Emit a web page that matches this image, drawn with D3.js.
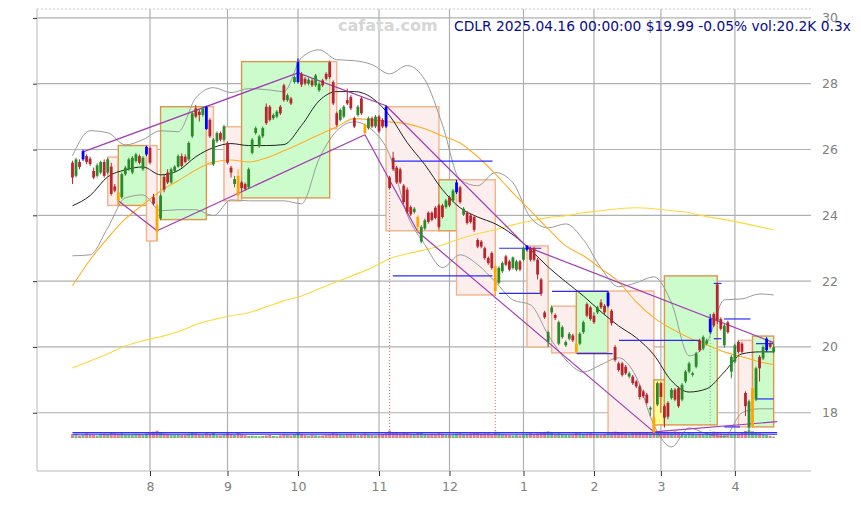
<!DOCTYPE html>
<html>
<head>
<meta charset="utf-8">
<script src="https://cdn.jsdelivr.net/npm/d3@7"></script>
<style>
  body { margin: 0; background: #fff; }
  text { font-family: "DejaVu Sans", sans-serif; }
</style>
</head>
<body>
<div id="chart"></div>
<script>
const width = 861, height = 505;
const plot = { left: 37, right: 811, top: 9, bottom: 471 };

// daily candles, one per trading day (Jul 2024 .. Apr 16 2025)
const open = [25.60,25.20,25.62,25.70,25.80,25.72,25.35,25.20,25.30,25.62,25.30,25.48,24.88,24.70,24.55,25.25,25.40,25.30,25.65,25.80,25.40,25.85,
  26.05,24.55,24.30,23.90,25.17,25.30,25.00,25.35,25.48,25.80,25.78,25.70,26.40,27.25,27.15,27.05,27.30,26.90,25.55,26.25,26.50,26.30,
  26.20,25.45,24.95,25.20,25.00,24.95,24.85,25.90,26.50,26.10,26.40,27.30,27.30,26.95,27.00,27.30,27.95,27.50,27.55,28.05,
  28.05,28.30,28.15,28.00,28.10,27.95,27.80,28.10,28.30,28.65,28.05,27.10,26.90,27.00,27.50,27.60,26.95,27.05,27.55,26.75,26.65,26.95,26.70,
  27.00,26.90,27.30,25.15,25.75,25.45,25.40,24.90,24.78,24.25,24.10,23.95,23.20,23.60,24.08,24.08,24.23,24.30,24.30,24.25,
  24.55,24.45,24.70,24.85,24.02,24.08,24.00,23.95,23.25,23.20,23.00,22.70,22.85,22.45,21.95,22.30,22.75,22.60,22.40,22.35,22.60,
  22.65,22.95,23.00,23.00,22.65,22.05,21.05,20.15,21.05,20.97,20.10,20.30,20.05,20.25,20.35,20.10,20.10,20.45,21.30,21.20,
  20.95,21.05,21.35,21.25,21.25,21.10,20.00,19.50,19.50,19.40,19.10,19.10,18.95,18.80,18.65,18.55,18.10,17.85,18.25,
  18.90,18.20,18.30,18.45,18.70,18.75,18.40,18.95,19.25,19.15,19.40,20.20,19.95,20.10,20.45,21.00,21.90,20.85,20.05,20.75,19.25,
  19.55,20.15,20.10,18.60,17.55,17.60,18.40,19.70,19.65,19.90,20.10,19.85];
const high = [25.66,25.75,25.70,26.00,25.85,25.78,25.45,25.58,25.66,25.70,25.75,25.60,24.95,24.75,25.30,25.50,25.75,25.80,25.90,25.85,25.80,26.12,
  26.10,24.65,24.35,24.65,25.25,25.40,25.45,25.52,25.85,25.88,25.85,26.25,27.15,27.35,27.22,27.30,27.33,26.95,26.35,26.55,26.55,26.75,
  26.25,25.50,25.20,25.40,25.05,25.00,25.45,26.35,26.70,26.45,26.70,27.40,27.35,27.10,27.20,27.35,28.00,27.70,27.60,28.25,
  28.77,28.35,28.20,28.18,28.15,28.30,28.05,28.15,28.35,28.70,28.10,27.15,27.25,27.35,27.85,27.65,27.00,27.35,27.60,26.80,27.00,27.00,27.05,
  27.05,26.95,27.35,25.20,25.93,25.50,25.45,24.95,24.85,24.30,24.25,24.00,23.70,23.90,24.12,24.12,24.28,24.35,24.35,24.50,
  24.60,24.80,25.08,24.90,24.25,24.12,24.05,24.00,23.30,23.25,23.05,22.75,22.90,22.50,22.45,22.60,22.80,22.65,22.75,22.65,22.65,
  23.05,23.10,23.05,23.05,22.70,22.10,21.10,20.50,21.25,21.02,20.80,20.65,20.20,20.45,20.40,20.15,20.45,20.80,21.35,21.25,
  21.05,21.25,21.45,21.30,21.70,21.15,20.05,19.55,19.55,19.45,19.25,19.15,19.00,18.85,18.70,18.60,18.20,17.90,18.95,
  18.95,18.25,18.35,18.75,18.75,18.80,18.90,19.30,19.55,19.25,19.85,20.25,20.35,20.25,21.00,21.05,21.95,20.90,20.70,20.80,19.75,
  20.10,20.20,20.15,18.65,18.40,18.80,19.40,19.75,20.05,20.30,20.15,20.10];
const low = [24.95,25.15,25.40,25.65,25.55,25.50,25.10,25.15,25.25,25.15,25.25,24.60,24.70,24.30,24.50,25.20,25.35,25.25,25.60,25.55,25.35,25.80,
  25.55,24.30,23.22,23.85,24.70,24.95,24.95,25.30,25.45,25.45,25.58,25.65,26.35,26.95,26.85,27.00,26.60,26.35,25.50,26.20,26.25,26.25,
  25.55,25.15,24.85,24.44,24.75,24.75,24.80,25.85,26.45,26.05,26.35,26.75,26.85,26.90,26.95,27.05,27.45,27.45,27.35,28.00,
  28.00,27.90,27.95,27.95,27.90,27.90,27.75,27.90,28.10,28.15,27.35,26.70,26.85,26.95,27.35,27.20,26.65,27.00,27.05,26.45,26.60,26.65,26.65,
  26.50,26.65,26.65,24.80,25.35,24.95,24.95,24.35,24.05,23.98,24.05,23.47,23.15,23.55,23.75,23.82,23.88,23.60,23.90,24.20,
  24.25,24.40,24.65,24.35,23.98,23.72,23.75,23.50,23.00,23.00,22.65,22.50,22.35,21.58,21.90,22.25,22.45,22.30,22.35,22.30,22.30,
  22.60,22.90,22.60,22.60,22.05,21.55,20.85,20.00,21.00,20.82,20.05,20.25,20.00,20.20,20.15,19.82,20.05,20.40,20.90,20.80,
  20.70,21.00,21.15,21.00,21.20,20.65,19.55,19.25,19.10,19.15,19.05,18.85,18.75,18.40,18.45,18.25,17.90,17.38,18.20,
  18.00,17.55,17.80,18.40,18.35,18.15,18.35,18.90,19.20,19.10,19.35,19.85,19.90,20.05,20.40,20.60,20.70,20.50,19.98,20.40,19.05,
  19.50,19.80,19.80,17.90,17.38,17.55,18.35,18.95,19.60,19.85,19.95,19.80];
const close = [25.15,25.70,25.47,25.95,25.62,25.56,25.15,25.52,25.62,25.20,25.70,24.65,24.75,24.45,25.25,25.45,25.70,25.75,25.85,25.60,25.75,26.08,
  25.60,24.35,23.50,24.60,24.78,25.00,25.40,25.48,25.80,25.50,25.62,26.20,27.10,27.00,27.05,27.25,26.62,26.40,26.30,26.50,26.30,26.70,
  25.60,25.30,25.10,24.60,24.83,24.80,25.40,26.30,26.65,26.40,26.65,26.80,26.90,27.05,27.15,27.10,27.50,27.65,27.40,28.20,
  28.65,27.97,28.00,28.12,27.95,28.25,28.00,27.95,28.15,28.20,27.40,26.75,27.20,27.30,27.40,27.25,26.70,27.30,27.10,26.50,26.95,26.70,27.00,
  26.55,26.70,26.70,24.83,25.40,25.00,25.00,24.40,24.10,24.03,24.20,23.65,23.65,23.85,23.80,23.86,23.92,23.65,23.95,24.45,
  24.30,24.75,25.00,24.40,24.20,23.77,23.80,23.56,23.05,23.05,22.70,22.55,22.40,21.70,22.40,22.55,22.50,22.35,22.72,22.60,22.35,
  23.00,23.07,22.65,22.65,22.20,21.62,20.90,20.45,21.20,20.88,20.75,20.60,20.15,20.40,20.20,19.85,20.40,20.75,20.95,20.85,
  20.75,21.20,21.20,21.05,21.65,20.72,19.60,19.30,19.15,19.20,19.20,18.90,18.80,18.48,18.50,18.30,18.15,17.40,18.90,
  18.48,17.85,17.88,18.70,18.40,18.20,18.85,19.25,19.50,19.20,19.80,19.90,20.30,20.20,20.85,20.65,20.80,20.55,20.65,20.45,19.70,
  20.05,19.85,19.85,18.20,18.35,18.75,19.35,19.35,20.00,20.25,20.00,19.99];
const volume = [55,62,40,48,70,52,45,38,60,66,58,85,72,64,70,55,50,48,62,58,47,66,
  80,95,110,75,68,60,52,48,58,45,50,62,88,70,55,50,72,60,78,44,40,52,
  70,58,45,90,60,42,30,35,28,25,30,38,45,30,25,40,55,48,40,52,
  85,60,45,38,50,42,35,40,48,55,72,65,50,44,58,62,55,40,52,68,50,45,40,
  55,58,72,110,90,85,70,78,82,65,60,88,75,58,52,62,55,70,60,48,
  45,52,66,70,58,62,68,74,80,65,70,72,60,95,68,55,50,45,42,48,40,
  50,62,70,58,66,88,92,100,75,65,70,60,55,52,58,80,70,60,66,72,
  58,52,48,55,70,66,95,80,72,68,55,70,74,82,68,75,60,110,90,
  85,88,80,70,100,78,66,60,72,68,55,62,58,85,70,95,80,66,60,55,62,
  58,64,90,105,115,100,88,70,60,48,35,20.2];

// pivot candles
const pivotHigh = [3, 21, 38, 64, 89, 109, 129, 152, 181, 197];
const pivotLow = [13, 24, 47, 83, 98, 120, 143, 165, 193];

// indicator lines, read every 5th trading day (+ last day)
const ma20 = [24.29,24.6,25.17,25.38,25.47,25.23,25.36,25.78,26.06,26.18,26.12,26.12,26.15,26.73,27.48,27.76,27.76,27.57,27.03,26.21,25.54,24.78,24.23,23.95,23.74,23.41,22.95,22.43,21.98,21.55,21.07,20.64,20.28,19.76,18.97,18.63,18.73,19.24,19.79,19.85,19.85];
const ma50 = [21.86,22.65,23.31,23.89,24.32,24.74,25.05,25.38,25.62,25.68,25.62,25.74,25.96,26.2,26.45,26.69,26.94,26.9,26.84,26.78,26.63,26.41,26.2,25.78,25.26,24.68,24.14,23.59,23.07,22.77,22.38,21.98,21.37,20.89,20.55,20.28,20.07,19.85,19.7,19.55,19.46];
const ma200 = [19.36,19.57,19.79,20.03,20.19,20.31,20.46,20.68,20.83,20.95,21.04,21.22,21.4,21.55,21.77,21.98,22.19,22.41,22.68,22.83,22.95,23.1,23.29,23.44,23.56,23.71,23.83,23.93,23.99,24.08,24.14,24.2,24.23,24.2,24.14,24.08,23.96,23.87,23.77,23.65,23.56];
const bbUpper = [25.81,26.57,26.51,26.14,26.3,26.57,26.54,27.57,27.88,27.73,27.85,27.82,27.76,28.79,29.03,28.73,28.7,28.58,28.3,28.55,28.12,26.75,25.08,24.9,25.3,24.99,23.93,23.62,23.74,23.26,22.4,21.83,21.95,22.13,21.34,19.73,20.12,21.43,21.46,21.61,21.58];
const bbLower = [22.77,22.8,23.62,24.53,24.62,24.14,24.17,24.17,23.99,24.47,24.44,24.44,24.44,24.35,25.72,26.57,26.84,26.6,25.84,24.02,23.11,22.41,22.8,22.5,21.98,21.43,21.28,20.37,19.61,19.24,19.46,19.67,19.09,17.63,16.96,17.54,17.36,17.27,18.0,18.12,18.12];

// swing boxes
const boxStart = [10, 13, 21, 25, 38, 43, 48, 73, 89, 104, 109, 129, 136, 143, 152, 165, 168, 189, 193];
const boxEnd   = [13, 21, 24, 38, 40, 48, 73, 75, 104, 109, 120, 135, 143, 152, 165, 168, 183, 193, 199];
const boxHigh  = [25.77, 26.12, 26.12, 27.30, 27.30, 26.69, 28.67, 28.67, 27.30, 25.08, 25.08, 23.07, 21.24, 21.70, 21.70, 19.00, 22.16, 20.20, 20.33];
const boxLow   = [24.30, 24.30, 23.22, 23.87, 25.56, 24.44, 24.53, 26.63, 23.53, 23.53, 21.58, 20.00, 19.82, 19.82, 17.38, 17.63, 17.63, 17.57, 17.57];
const boxKind  = ["down","up","down","up","down","down","up","down","down","up","down","down","down","up","down","flat","up","down","up"];

// trend lines (from index/price to index/price)
const trendI0 = [3, 13, 24, 64, 89, 83, 98, 129, 165];
const trendP0 = [25.93, 24.44, 23.53, 28.33, 27.33, 26.45, 23.50, 23.04, 17.42];
const trendI1 = [64, 24, 83, 89, 129, 98, 165, 199, 200];
const trendP1 = [28.33, 23.53, 26.45, 27.33, 23.04, 23.50, 17.42, 20.13, 17.73];

// support / resistance segments
const levelStart = [90.9, 90.9, 121.1, 121.1, 136.1, 143.1, 155.1, 182.0, 182.0, 184.9, 194.0, 194.0, 185.0];
const levelEnd   = [119.2, 119.2, 133.1, 133.1, 152.0, 153.3, 178.1, 184.2, 184.2, 192.4, 198.8, 199.0, 189.4];
const levelPrice = [25.65, 22.16, 23.00, 21.63, 21.69, 19.80, 20.20, 21.93, 20.25, 20.85, 20.10, 18.42, 17.57];
const floorLevels = [17.40, 17.35];

// dotted drop lines
const dropIdx = [90, 120, 181];
const dropKind = ["down", "down", "up"];

const yTicks = [18, 20, 22, 24, 26, 28, 30];
const monthIdx = [22, 44, 64, 87, 107, 128, 148, 167, 188];
const monthLabels = ["8", "9", "10", "11", "12", "1", "2", "3", "4"];

const svg = d3.select("#chart").append("svg")
  .attr("width", width).attr("height", height)
  .attr("viewBox", [0, 0, width, height]);

const x = d3.scaleLinear().domain([-10.07, 209.6]).range([plot.left, plot.right]);
const y = d3.scaleLinear().domain([16.23, 30.27]).range([plot.bottom, plot.top]);
const volH = d3.scaleLinear().domain([0, 120]).range([0, 8]);

// grid
svg.append("g").selectAll("line").data(yTicks).join("line")
  .attr("x1", plot.left).attr("x2", plot.right)
  .attr("y1", d => y(d)).attr("y2", d => y(d))
  .attr("stroke", "#b0b0b0").attr("stroke-width", 1.2);
svg.append("g").selectAll("line").data(monthIdx).join("line")
  .attr("x1", d => x(d)).attr("x2", d => x(d))
  .attr("y1", plot.top).attr("y2", plot.bottom)
  .attr("stroke", "#b0b0b0").attr("stroke-width", 1.2);

// frame
svg.append("line").attr("x1", plot.left).attr("x2", plot.right).attr("y1", plot.top).attr("y2", plot.top)
  .attr("stroke", "#c8c8c8").attr("stroke-dasharray", "2,2");
svg.append("line").attr("x1", plot.left).attr("x2", plot.left).attr("y1", plot.top).attr("y2", plot.bottom)
  .attr("stroke", "#d0d0d0").attr("stroke-width", 1.5);
svg.append("line").attr("x1", plot.left).attr("x2", plot.right).attr("y1", plot.bottom).attr("y2", plot.bottom)
  .attr("stroke", "#d0d0d0").attr("stroke-width", 1.5);

// boxes
const boxFill = { up: "#ccfccc", down: "#fdeeee", flat: "#ffff99" };
const boxStroke = { up: "#e0954a", down: "#f0b48a", flat: "#e0954a" };
svg.append("g").selectAll("rect").data(boxStart).join("rect")
  .attr("x", (d, i) => x(d))
  .attr("y", (d, i) => y(boxHigh[i]))
  .attr("width", (d, i) => x(boxEnd[i]) - x(d))
  .attr("height", (d, i) => y(boxLow[i]) - y(boxHigh[i]))
  .attr("fill", (d, i) => boxFill[boxKind[i]])
  .attr("stroke", (d, i) => boxStroke[boxKind[i]])
  .attr("stroke-width", 1.4);

// indicator lines
const sampleIdx = d3.range(0, 200, 5).concat([199]);
const line = d3.line()
  .x((d, k) => x(sampleIdx[k]))
  .y(d => y(d))
  .curve(d3.curveMonotoneX);

svg.append("path").datum(ma200).attr("d", line).attr("fill", "none").attr("stroke", "#ffd83a").attr("stroke-width", 1.1);
svg.append("path").datum(bbUpper).attr("d", line).attr("fill", "none").attr("stroke", "#9a9a9a").attr("stroke-width", 1);
svg.append("path").datum(bbLower).attr("d", line).attr("fill", "none").attr("stroke", "#9a9a9a").attr("stroke-width", 1);
svg.append("path").datum(ma50).attr("d", line).attr("fill", "none").attr("stroke", "#ffae2a").attr("stroke-width", 1.1);
svg.append("path").datum(ma20).attr("d", line).attr("fill", "none").attr("stroke", "#222").attr("stroke-width", 1);

// trend lines
svg.append("g").selectAll("line").data(trendI0).join("line")
  .attr("x1", d => x(d)).attr("y1", (d, i) => y(trendP0[i]))
  .attr("x2", (d, i) => x(trendI1[i])).attr("y2", (d, i) => y(trendP1[i]))
  .attr("stroke", "#a43ab4").attr("stroke-width", 1.2);

// volume bars
const volBase = 438;
svg.append("g").selectAll("rect").data(volume).join("rect")
  .attr("x", (d, i) => x(i) - 1.5)
  .attr("y", d => volBase - volH(d))
  .attr("width", 3)
  .attr("height", d => volH(d))
  .attr("fill", (d, i) => close[i] >= open[i] ? "rgba(60,160,60,0.7)" : "rgba(210,80,80,0.7)");

// dotted drop lines
svg.append("g").selectAll("line").data(dropIdx).join("line")
  .attr("x1", d => x(d)).attr("x2", d => x(d))
  .attr("y1", d => y(low[d])).attr("y2", y(floorLevels[0]))
  .attr("stroke", (d, i) => dropKind[i] === "up" ? "#5cb85c" : "#e06666")
  .attr("stroke-width", 1)
  .attr("stroke-dasharray", "1,2");

// floor lines
svg.append("g").selectAll("line").data(floorLevels).join("line")
  .attr("x1", x(0)).attr("x2", x(200))
  .attr("y1", d => y(d)).attr("y2", d => y(d))
  .attr("stroke", "#3030ff").attr("stroke-width", 1.1);

// level segments
svg.append("g").selectAll("line").data(levelStart).join("line")
  .attr("x1", d => x(d)).attr("x2", (d, i) => x(levelEnd[i]))
  .attr("y1", (d, i) => y(levelPrice[i])).attr("y2", (d, i) => y(levelPrice[i]))
  .attr("stroke", "#2a2aff").attr("stroke-width", 1.2);

// candles
function candleColor(i) {
  if (pivotHigh.includes(i)) return "#0000ff";
  if (pivotLow.includes(i)) return "#ffa500";
  return close[i] >= open[i] ? "#2a8a2a" : "#b8262c";
}
const candles = svg.append("g").selectAll("g").data(close).join("g");
candles.append("line")
  .attr("x1", (d, i) => x(i)).attr("x2", (d, i) => x(i))
  .attr("y1", (d, i) => y(high[i])).attr("y2", (d, i) => y(low[i]))
  .attr("stroke", (d, i) => candleColor(i)).attr("stroke-width", 1);
candles.append("rect")
  .attr("x", (d, i) => x(i) - 1.4)
  .attr("y", (d, i) => y(Math.max(open[i], close[i])))
  .attr("width", 2.8)
  .attr("height", (d, i) => Math.max(1, Math.abs(y(open[i]) - y(close[i]))))
  .attr("fill", (d, i) => candleColor(i));

// axes
svg.append("g")
  .attr("transform", `translate(${plot.left},0)`)
  .call(d3.axisLeft(y).tickValues(yTicks).tickSize(4).tickFormat(""))
  .call(g => g.select(".domain").remove())
  .call(g => g.selectAll("line").attr("stroke", "#333"));

svg.append("g")
  .attr("transform", `translate(818,0)`)
  .call(d3.axisRight(y).tickValues(yTicks).tickSize(0).tickPadding(4))
  .call(g => g.select(".domain").remove())
  .call(g => g.selectAll("text").attr("fill", "#808080").attr("font-size", "12.5px")
    .attr("font-family", "DejaVu Sans, sans-serif"));

svg.append("g")
  .attr("transform", `translate(0,${plot.bottom})`)
  .call(d3.axisBottom(x).tickValues(monthIdx).tickFormat((d, i) => monthLabels[i]).tickSize(5).tickPadding(6))
  .call(g => g.select(".domain").remove())
  .call(g => g.selectAll("line").attr("stroke", "#333"))
  .call(g => g.selectAll("text").attr("fill", "#808080").attr("font-size", "12.5px")
    .attr("font-family", "DejaVu Sans, sans-serif"));

// watermark and title
svg.append("text")
  .attr("x", 338).attr("y", 31)
  .attr("font-size", "16px").attr("font-weight", "bold")
  .attr("fill", "#d6d6d6")
  .text("cafata.com");

svg.append("text")
  .attr("x", 454).attr("y", 31)
  .attr("font-size", "13.8px")
  .attr("fill", "#0a0a8c")
  .text("CDLR 2025.04.16 00:00:00 $19.99 -0.05% vol:20.2K 0.3x");
</script>
</body>
</html>
